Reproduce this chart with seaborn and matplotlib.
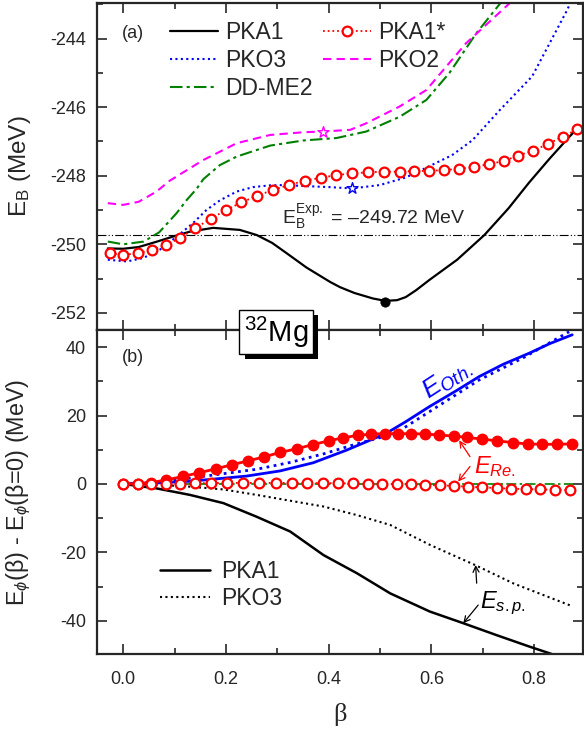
import matplotlib
matplotlib.use("Agg")
import matplotlib.pyplot as plt
import matplotlib.patheffects as pe
from matplotlib.ticker import MultipleLocator, FormatStrFormatter
import seaborn as sns

# ---------------- panel (a): binding energy E_B (MeV) vs beta ----------------
pka1_beta = [-0.03, 0.0, 0.03, 0.066, 0.10, 0.13, 0.175, 0.227, 0.26, 0.29, 0.32, 0.357,
             0.403, 0.422, 0.45, 0.486, 0.51, 0.533, 0.55, 0.57, 0.596, 0.65, 0.703,
             0.75, 0.79, 0.83, 0.868, 0.885]
pka1_eb = [-250.12, -250.13, -250.08, -249.92, -249.76, -249.63, -249.52, -249.58,
           -249.73, -249.96, -250.28, -250.68, -251.1, -251.25, -251.42, -251.58,
           -251.65, -251.63, -251.54, -251.34, -251.04, -250.45, -249.73, -248.95,
           -248.2, -247.5, -246.87, -246.6]

pko3_beta = [-0.03, 0.007, 0.039, 0.071, 0.104, 0.136, 0.162, 0.188, 0.221, 0.253,
             0.286, 0.318, 0.351, 0.40, 0.446, 0.50, 0.55, 0.596, 0.64, 0.68, 0.732,
             0.796, 0.864, 0.875]
pko3_eb = [-250.45, -250.5, -250.4, -250.16, -249.78, -249.38, -249.0, -248.72,
           -248.46, -248.33, -248.28, -248.27, -248.3, -248.33, -248.37, -248.27,
           -248.05, -247.72, -247.4, -246.96, -246.1, -245.1, -243.17, -242.8]

ddme2_beta = [-0.03, 0.0, 0.04, 0.07, 0.104, 0.124, 0.143, 0.156, 0.188, 0.221, 0.286,
              0.351, 0.415, 0.473, 0.538, 0.59, 0.635, 0.687, 0.735]
ddme2_eb = [-249.92, -250.0, -249.92, -249.65, -249.09, -248.7, -248.38, -248.1,
            -247.69, -247.44, -247.12, -246.97, -246.9, -246.71, -246.28, -245.79,
            -245.0, -243.85, -242.95]

pko2_beta = [-0.03, 0.0, 0.03, 0.065, 0.09, 0.156, 0.221, 0.286, 0.351, 0.388, 0.442,
             0.473, 0.538, 0.59, 0.667, 0.757]
pko2_eb = [-248.8, -248.85, -248.76, -248.46, -248.15, -247.54, -247.05, -246.81,
           -246.73, -246.71, -246.66, -246.47, -245.98, -245.5, -244.14, -242.9]

pka1s_beta = [-0.025, 0.0, 0.029, 0.057, 0.084, 0.11, 0.14, 0.17, 0.20, 0.23, 0.261,
              0.292, 0.323, 0.354, 0.385, 0.415, 0.446, 0.476, 0.507, 0.538, 0.567,
              0.596, 0.625, 0.654, 0.683, 0.713, 0.741, 0.769, 0.798, 0.827, 0.856, 0.884]
pka1s_eb = [-250.26, -250.31, -250.26, -250.16, -250.02, -249.82, -249.53, -249.26,
            -249.0, -248.78, -248.58, -248.41, -248.27, -248.14, -248.06, -247.98,
            -247.93, -247.9, -247.88, -247.88, -247.86, -247.86, -247.83, -247.8,
            -247.74, -247.66, -247.57, -247.41, -247.27, -247.07, -246.86, -246.64]

# minima markers
pka1_min = (0.51, -251.67)
pko3_min = (0.446, -248.37)
pko2_min = (0.388, -246.71)
eb_exp = -249.72

# ---------------- panel (b): energy decomposition (MeV) vs beta ----------------
sp_pka1_beta = [0.0, 0.065, 0.13, 0.195, 0.26, 0.325, 0.39, 0.455, 0.52, 0.597, 0.662,
                0.727, 0.792, 0.834, 0.86]
sp_pka1 = [0.0, -1.3, -3.2, -5.6, -9.6, -13.9, -20.8, -26.1, -32.0, -37.3, -40.7,
           -44.2, -47.6, -49.7, -51.0]

sp_pko3_beta = [0.0, 0.065, 0.13, 0.195, 0.26, 0.325, 0.39, 0.455, 0.52, 0.597, 0.685,
                0.76, 0.87]
sp_pko3 = [0.0, -0.2, -0.8, -1.6, -3.2, -4.9, -6.6, -9.1, -12.0, -17.8, -23.7, -29.1, -35.5]

oth_pka1_beta = [0.0, 0.065, 0.13, 0.175, 0.24, 0.305, 0.37, 0.435, 0.512, 0.55, 0.596,
                 0.65, 0.693, 0.74, 0.79, 0.83, 0.874]
oth_pka1 = [0.0, 0.3, 0.8, 1.4, 2.3, 3.8, 6.2, 9.9, 14.8, 18.2, 22.6, 27.4, 31.4, 35.0,
            38.2, 41.0, 43.6]

oth_pko3_beta = [0.0, 0.065, 0.13, 0.195, 0.26, 0.325, 0.39, 0.45, 0.53, 0.60, 0.693,
                 0.78, 0.868]
oth_pko3 = [0.0, 0.5, 1.7, 3.0, 4.3, 6.3, 8.8, 11.5, 14.8, 21.5, 30.4, 37.0, 44.5]

re_pka1_beta = [0.0, 0.028, 0.055, 0.084, 0.117, 0.148, 0.18, 0.211, 0.242, 0.274,
                0.305, 0.338, 0.369, 0.40, 0.428, 0.457, 0.483, 0.509, 0.535, 0.56,
                0.588, 0.615, 0.643, 0.67, 0.699, 0.728, 0.758, 0.787, 0.816, 0.845, 0.874]
re_pka1 = [0.0, 0.1, 0.4, 1.2, 2.2, 3.3, 4.4, 5.6, 6.7, 7.9, 9.2, 10.3, 11.5, 12.6,
           13.5, 14.2, 14.6, 14.7, 14.7, 14.7, 14.6, 14.3, 14.0, 13.6, 13.1, 12.6,
           12.1, 11.7, 11.6, 11.6, 11.7]

re_pko3_beta = [0.0, 0.028, 0.055, 0.083, 0.11, 0.14, 0.171, 0.202, 0.233, 0.265,
                0.297, 0.328, 0.358, 0.389, 0.419, 0.448, 0.476, 0.504, 0.532, 0.56,
                0.588, 0.616, 0.643, 0.671, 0.699, 0.727, 0.755, 0.784, 0.812, 0.841, 0.869]
re_pko3 = [0.0, 0.0, 0.0, 0.05, 0.1, 0.2, 0.25, 0.3, 0.3, 0.3, 0.3, 0.3, 0.3, 0.25,
           0.2, 0.15, 0.1, 0.05, 0.0, -0.1, -0.25, -0.4, -0.55, -0.8, -1.0, -1.2,
           -1.4, -1.5, -1.6, -1.7, -1.75]

re_ddme2_beta = [0.0, 0.875]
re_ddme2 = [0.0, 0.0]

# ---------------- style ----------------
sns.set_theme(style="ticks")
plt.rcParams["font.family"] = ["Liberation Sans", "DejaVu Sans"]
plt.rcParams["mathtext.fontset"] = "custom"
plt.rcParams["mathtext.rm"] = "Liberation Sans"
plt.rcParams["mathtext.it"] = "Liberation Sans:italic"
plt.rcParams["mathtext.bf"] = "Liberation Sans:bold"
plt.rcParams["axes.unicode_minus"] = False
plt.rcParams["axes.linewidth"] = 1.5

RED, BLUE, GREEN, MAG = "#ff0000", "#0000ff", "#008000", "#ff00ff"
DOT = (0, (1, 1.6))
DASHDOT = (0, (6, 2, 1.5, 2))
DASH = (0, (4, 2.5))

fig = plt.figure(figsize=(5.84, 7.33), dpi=100)
W, H = 584, 733
ax1 = fig.add_axes([97 / W, 1 - 330 / H, 486 / W, 327 / H])
ax2 = fig.add_axes([97 / W, 1 - 654 / H, 486 / W, 324 / H], sharex=ax1)


def line(ax, x, y, **kw):
    sns.lineplot(x=x, y=y, ax=ax, errorbar=None, sort=False, legend=False, **kw)
    return ax.get_lines()[-1]


# ---- panel (a) ----
h_pka1 = line(ax1, pka1_beta, pka1_eb, color="black", lw=1.6, label="PKA1")
h_pko3 = line(ax1, pko3_beta, pko3_eb, color=BLUE, lw=1.5, linestyle=DOT, label="PKO3")
h_dd = line(ax1, ddme2_beta, ddme2_eb, color=GREEN, lw=1.5, linestyle=DASHDOT, label="DD-ME2")
h_pko2 = line(ax1, pko2_beta, pko2_eb, color=MAG, lw=1.5, linestyle=DASH, label="PKO2")
h_pka1s = line(ax1, pka1s_beta, pka1s_eb, color=RED, lw=1.3, linestyle=DOT, marker="o",
               markersize=7, markerfacecolor="white", markeredgecolor=RED,
               markeredgewidth=1.6, label="PKA1*")

sns.scatterplot(x=[pka1_min[0]], y=[pka1_min[1]], ax=ax1, color="black", s=45,
                edgecolor="black", zorder=5, legend=False)
sns.scatterplot(x=[pko3_min[0]], y=[pko3_min[1]], ax=ax1, marker="*", s=70,
                facecolor="white", edgecolor=BLUE, linewidth=1.0, zorder=5, legend=False)
sns.scatterplot(x=[pko2_min[0]], y=[pko2_min[1]], ax=ax1, marker="*", s=70,
                facecolor="white", edgecolor=MAG, linewidth=1.0, zorder=5, legend=False)

ax1.axhline(eb_exp, color="black", lw=0.8, linestyle=(0, (8, 2, 1, 2, 1, 2)), zorder=1)
ax1.text(0.31, -249.2, r"E$_\mathregular{B}^\mathregular{Exp.}$ = –249.72 MeV",
         fontsize=14, va="center", ha="left")

ax1.legend([h_pka1, h_pko3, h_dd, h_pka1s, h_pko2],
           ["PKA1", "PKO3", "DD-ME2", "PKA1*", "PKO2"],
           ncol=2, frameon=False, fontsize=16.5, loc="upper left",
           bbox_to_anchor=(0.150, 0.946), handlelength=2.1, handletextpad=0.3,
           columnspacing=0.45, labelspacing=0.22, borderpad=0, borderaxespad=0)
ax1.text(0.051, 0.908, "(a)", transform=ax1.transAxes, fontsize=13, va="center")

ax1.set_xlim(-0.051, 0.895)
ax1.set_ylim(-252.5, -242.96)
ax1.yaxis.set_major_locator(MultipleLocator(2))
ax1.yaxis.set_minor_locator(MultipleLocator(1))
ax1.set_ylabel(r"E$_\mathregular{B}$ (MeV)", fontsize=17.5)
ax1.yaxis.set_label_coords(-0.132, 0.5)
ax1.tick_params(labelbottom=False)

# ---- panel (b) ----
line(ax2, re_ddme2_beta, re_ddme2, color=GREEN, lw=1.2, linestyle=DASHDOT)
s1 = line(ax2, sp_pka1_beta, sp_pka1, color="black", lw=1.8, label="PKA1")
s2 = line(ax2, sp_pko3_beta, sp_pko3, color="black", lw=1.5, linestyle=DOT, label="PKO3")
line(ax2, oth_pka1_beta, oth_pka1, color=BLUE, lw=2.0)
line(ax2, oth_pko3_beta, oth_pko3, color=BLUE, lw=2.0, linestyle=DOT)
line(ax2, re_pka1_beta, re_pka1, color=RED, lw=2.0, marker="o", markersize=7.5,
     markerfacecolor=RED, markeredgecolor=RED, markeredgewidth=1.0)
line(ax2, re_pko3_beta, re_pko3, color=RED, lw=1.3, linestyle=DOT, marker="o",
     markersize=7, markerfacecolor="white", markeredgecolor=RED, markeredgewidth=1.6)

ax2.legend([s1, s2], ["PKA1", "PKO3"], frameon=False, fontsize=16.5, loc="upper left",
           bbox_to_anchor=(0.1296, 0.2886), handlelength=2.2, handletextpad=0.45,
           labelspacing=0.14, borderpad=0, borderaxespad=0)
ax2.text(0.051, 0.914, "(b)", transform=ax2.transAxes, fontsize=13, va="center")

ax2.text(0.63, 30.4, r"$\mathit{E}_{\mathit{Oth.}}$", color=BLUE, fontsize=19,
         rotation=33, ha="center", va="center")
ax2.text(0.724, 5.0, r"$\mathit{E}_{\mathit{Re.}}$", color=RED, fontsize=17,
         ha="center", va="center")
ax2.text(0.738, -34.8, r"$\mathit{E}_{\mathit{s.p.}}$", color="black", fontsize=17,
         ha="center", va="center")

arr = dict(arrowstyle="->,head_length=0.35,head_width=0.18", lw=0.9, shrinkA=0, shrinkB=0)
ax2.annotate("", xy=(0.654, 12.7), xytext=(0.675, 8.0), arrowprops=dict(arr, color=RED))
ax2.annotate("", xy=(0.652, 0.7), xytext=(0.675, 5.1), arrowprops=dict(arr, color=RED))
ax2.annotate("", xy=(0.686, -23.7), xytext=(0.688, -29.0), arrowprops=dict(arr, color="black"))
ax2.annotate("", xy=(0.662, -40.7), xytext=(0.691, -35.4), arrowprops=dict(arr, color="black"))

ax2.set_ylim(-49.7, 45.0)
ax2.xaxis.set_major_locator(MultipleLocator(0.2))
ax2.xaxis.set_minor_locator(MultipleLocator(0.1))
ax2.yaxis.set_major_locator(MultipleLocator(20))
ax2.yaxis.set_minor_locator(MultipleLocator(10))
ax2.xaxis.set_major_formatter(FormatStrFormatter("%.1f"))
ax2.set_ylabel(r"E$_\phi$(β) - E$_\phi$(β=0) (MeV)", fontsize=16.8)
ax2.yaxis.set_label_coords(-0.132, 0.5)
ax2.set_xlabel("β", fontsize=19, family=["Liberation Serif", "DejaVu Serif"])
ax2.xaxis.set_label_coords(0.5, -0.151)

for ax in (ax1, ax2):
    ax.tick_params(which="both", direction="in", top=True, right=True, width=1.2,
                   labelsize=13)
    ax.tick_params(axis="y", which="both", pad=8)
    ax.tick_params(axis="x", which="both", pad=12)
    ax.tick_params(which="major", length=7)
    ax.tick_params(which="minor", length=4)
    for sp in ax.spines.values():
        sp.set_linewidth(1.6)

# 32Mg label box with drop shadow
mg = fig.text(276 / W, 1 - 332 / H, r"$^{32}$Mg", fontsize=21, ha="center",
              va="center", color="black", zorder=11,
              bbox=dict(boxstyle="square,pad=0.15", fc="white", ec="black", lw=1))
mg.get_bbox_patch().set_path_effects([
    pe.SimplePatchShadow(offset=(3.8, -3.8), shadow_rgbFace="black", alpha=1.0),
    pe.Normal()])

fig.savefig("out.png", dpi=100)
